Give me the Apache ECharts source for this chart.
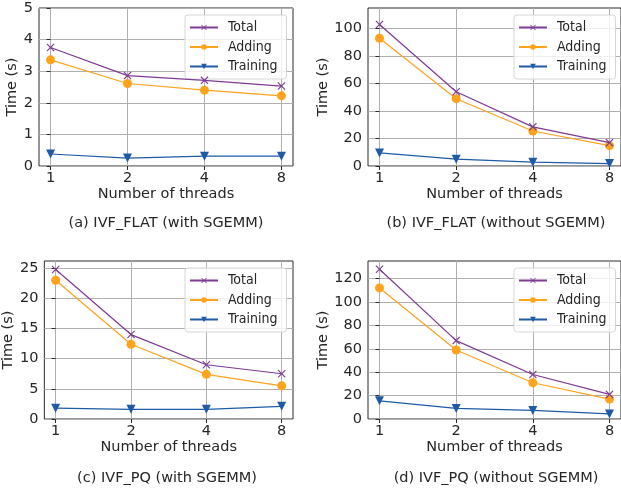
<!DOCTYPE html>
<html>
<head>
<meta charset="utf-8">
<script src="https://cdn.jsdelivr.net/npm/echarts@6/dist/echarts.min.js"></script>
<style>
  html, body { margin: 0; padding: 0; background: #fff; }
  #chart { width: 621px; height: 489px; }
</style>
</head>
<body>
<div id="chart"></div>
<script>
// data
var threads = ['1', '2', '4', '8'];
var seriesNames = ['Total', 'Adding', 'Training'];

var flatSgemmTotal = [3.75, 2.86, 2.71, 2.53];
var flatSgemmAdding = [3.36, 2.61, 2.40, 2.22];
var flatSgemmTraining = [0.38, 0.25, 0.31, 0.31];

var flatNoSgemmTotal = [103, 54, 28.5, 17];
var flatNoSgemmAdding = [93, 49, 25.5, 14.8];
var flatNoSgemmTraining = [9.5, 5, 2.8, 1.8];

var pqSgemmTotal = [24.8, 14.0, 9.0, 7.5];
var pqSgemmAdding = [23.0, 12.4, 7.4, 5.5];
var pqSgemmTraining = [1.8, 1.6, 1.6, 2.1];

var pqNoSgemmTotal = [128, 67, 38, 21];
var pqNoSgemmAdding = [112, 59, 31, 17];
var pqNoSgemmTraining = [15.5, 9, 7.3, 4.3];

var yTicksA = [0, 1, 2, 3, 4, 5];
var yTicksB = [0, 20, 40, 60, 80, 100];
var yTicksC = [0, 5, 10, 15, 20, 25];
var yTicksD = [0, 20, 40, 60, 80, 100, 120];

var captions = ['(a) IVF_FLAT (with SGEMM)', '(b) IVF_FLAT (without SGEMM)',
                '(c) IVF_PQ (with SGEMM)', '(d) IVF_PQ (without SGEMM)'];

var colors = { Total: '#7f3a94', Adding: '#ffa21c', Training: '#1f5aa6' };
var FONT = 'DejaVu Sans';
var TXT = '#262626';
var FS = 14.5;

var panels = [
  { left: 39, top: 8, width: 254, yMax: 5, yTicks: yTicksA, nameGap: 15.5, legend: [185, 15], cap: [161, 211],
    data: [flatSgemmTotal, flatSgemmAdding, flatSgemmTraining] },
  { left: 368, top: 8, width: 253, yMax: 115, yTicks: yTicksB, nameGap: 32.5, legend: [514, 15], cap: [491, 211],
    data: [flatNoSgemmTotal, flatNoSgemmAdding, flatNoSgemmTraining] },
  { left: 39, top: 261, width: 254, yMax: 26.2, yTicks: yTicksC, nameGap: 23.5, legend: [185, 268], cap: [162, 466],
    data: [pqSgemmTotal, pqSgemmAdding, pqSgemmTraining] },
  { left: 368, top: 261, width: 253, yMax: 135, yTicks: yTicksD, nameGap: 32.5, legend: [514, 268], cap: [491, 466],
    data: [pqNoSgemmTotal, pqNoSgemmAdding, pqNoSgemmTraining] }
];

var xIdx = threads.map(function (t, i) { return i; });
var crossPath = 'path://M0,1L1,0L5,4L9,0L10,1L6,5L10,9L9,10L5,6L1,10L0,9L4,5Z';

var grids = [], xAxes = [], yAxes = [], series = [], legends = [], titles = [];

panels.forEach(function (p, k) {
  grids.push({ left: p.left, top: p.top, width: p.width, height: 158,
    show: true, borderColor: '#2b2b2b', borderWidth: 1, backgroundColor: 'transparent' });
  xAxes.push({
    type: 'value', gridIndex: k, min: -0.15, max: 3.15,
    name: 'Number of threads', nameLocation: 'middle', nameGap: 18,
    nameTextStyle: { fontFamily: FONT, fontSize: FS, color: TXT },
    axisLine: { show: false },
    axisTick: { show: true, length: 4, customValues: xIdx, lineStyle: { color: '#2b2b2b' } },
    axisLabel: { customValues: xIdx, margin: 5, fontFamily: FONT, fontSize: FS, color: TXT,
      formatter: function (v) { return threads[Math.round(v)]; } },
    splitLine: { show: true, lineStyle: { color: '#b0b0b0', width: 1 } }
  });
  yAxes.push({
    type: 'value', gridIndex: k, min: 0, max: p.yMax,
    name: 'Time (s)', nameLocation: 'middle', nameGap: p.nameGap,
    nameTextStyle: { fontFamily: FONT, fontSize: FS, color: TXT },
    axisLine: { show: false },
    axisTick: { show: true, length: 4, customValues: p.yTicks, lineStyle: { color: '#2b2b2b' } },
    axisLabel: { customValues: p.yTicks, margin: 6, fontFamily: FONT, fontSize: FS, color: TXT },
    splitLine: { show: true, lineStyle: { color: '#b0b0b0', width: 1 } }
  });
  seriesNames.forEach(function (name, s) {
    var sym = s === 0 ? crossPath : (s === 1 ? 'circle' : 'triangle');
    series.push({
      type: 'line', name: name, xAxisIndex: k, yAxisIndex: k,
      data: p.data[s].map(function (v, i) { return [i, v]; }),
      symbol: sym, symbolSize: s === 0 ? 8 : 9,
      symbolRotate: s === 2 ? 180 : 0,
      showAllSymbol: true,
      lineStyle: { color: colors[name], width: 1.2 },
      itemStyle: { color: colors[name] },
      z: 5 - s,
      animation: false
    });
  });
  legends.push({
    orient: 'vertical', left: p.legend[0], top: p.legend[1],
    padding: [4, 9, 4, 4], itemGap: 2.5,
    itemWidth: 28, itemHeight: 7,
    backgroundColor: 'rgba(255,255,255,0.8)', borderColor: '#d6d6d6', borderWidth: 1, borderRadius: 3,
    textStyle: { fontFamily: 'DejaVu Sans Condensed', fontSize: 14, color: TXT, padding: [0, 0, 0, 5], lineHeight: 17 },
    data: seriesNames
  });
  titles.push({
    text: captions[k], left: p.cap[0], top: p.cap[1], textAlign: 'center',
    textStyle: { fontFamily: FONT, fontSize: FS, fontWeight: 'normal', color: TXT }
  });
});

var chart = echarts.init(document.getElementById('chart'), null, { renderer: 'canvas' });
chart.setOption({
  animation: false,
  title: titles,
  legend: legends,
  grid: grids,
  xAxis: xAxes,
  yAxis: yAxes,
  series: series
});
</script>
</body>
</html>
